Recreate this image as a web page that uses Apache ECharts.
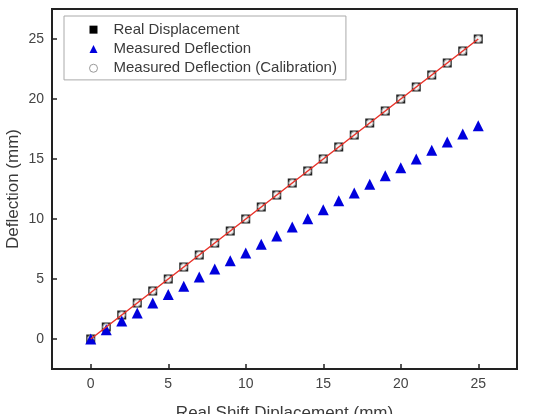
<!DOCTYPE html>
<html>
<head>
<meta charset="utf-8">
<script src="https://cdn.jsdelivr.net/npm/echarts@6/dist/echarts.min.js"></script>
<style>
  html, body { margin: 0; padding: 0; background: #fff; }
  #chart { width: 551px; height: 414px; }
</style>
</head>
<body>
<div id="chart"></div>
<script>
// shift displacement (mm)
var shift = [0, 1, 2, 3, 4, 5, 6, 7, 8, 9, 10, 11, 12, 13, 14, 15, 16, 17, 18, 19, 20, 21, 22, 23, 24, 25];
var realDisp = [0, 1, 2, 3, 4, 5, 6, 7, 8, 9, 10, 11, 12, 13, 14, 15, 16, 17, 18, 19, 20, 21, 22, 23, 24, 25];
var measured = [0, 0.78, 1.5, 2.17, 3.0, 3.7, 4.4, 5.17, 5.83, 6.53, 7.17, 7.9, 8.58, 9.33, 10.03,
                10.78, 11.53, 12.17, 12.89, 13.6, 14.28, 15.0, 15.72, 16.42, 17.08, 17.78];
var calibrated = [0, 1, 2, 3, 4, 5, 6, 7, 8, 9, 10, 11, 12, 13, 14, 15, 16, 17, 18, 19, 20, 21, 22, 23, 24, 25];
var xTicks = [0, 5, 10, 15, 20, 25];
var yTicks = [0, 5, 10, 15, 20, 25];

function pairs(ys) {
    return shift.map(function (x, i) { return [x, ys[i]]; });
}

var myChart = echarts.init(document.getElementById('chart'));
var font = 'Liberation Sans, Arial, sans-serif';

var option = {
    animation: false,
    backgroundColor: '#fff',
    textStyle: { fontFamily: font },
    grid: {
        left: 52, right: 34, top: 9, bottom: 45,
        outerBoundsMode: 'none',
        containLabel: false,
        show: true,
        borderColor: '#222',
        borderWidth: 2
    },
    legend: {
        orient: 'vertical',
        left: 64, top: 16,
        padding: [4, 9, 2, 25],
        itemGap: 0,
        itemWidth: 8, itemHeight: 8,
        backgroundColor: '#fff',
        borderColor: '#aaa',
        borderWidth: 1,
        textStyle: { fontSize: 15, color: '#3a3a3a', lineHeight: 19.3, padding: [0, 0, 0, 11], fontFamily: font },
        data: [
            { name: 'Real Displacement', icon: 'rect', itemStyle: { color: '#000' } },
            { name: 'Measured Deflection', icon: 'triangle', itemStyle: { color: '#0000dd' } },
            { name: 'Measured Deflection (Calibration)', icon: 'circle',
              itemStyle: { color: '#fff', borderColor: '#999', borderWidth: 1 } }
        ]
    },
    xAxis: {
        type: 'value',
        min: -2.5, max: 27.5,
        name: 'Real Shift Diplacement (mm)',
        nameLocation: 'middle',
        nameGap: 36,
        nameMoveOverlap: false,
        nameTextStyle: { fontSize: 17, color: '#3a3a3a', fontFamily: font },
        axisLine: { show: true, onZero: false, lineStyle: { color: '#222', width: 2 } },
        axisTick: { show: true, inside: true, length: 5, customValues: xTicks, lineStyle: { color: '#222', width: 1.5 } },
        axisLabel: { fontSize: 14, color: '#444', margin: 8, customValues: xTicks },
        splitLine: { show: false }
    },
    yAxis: {
        type: 'value',
        min: -2.5, max: 27.5,
        name: 'Deflection (mm)',
        nameLocation: 'middle',
        nameGap: 30,
        nameMoveOverlap: false,
        nameTextStyle: { fontSize: 17, color: '#3a3a3a', fontFamily: font },
        axisLine: { show: true, onZero: false, lineStyle: { color: '#222', width: 2 } },
        axisTick: { show: true, inside: true, length: 5, customValues: yTicks, lineStyle: { color: '#222', width: 1.5 } },
        axisLabel: { fontSize: 14, color: '#444', margin: 8, customValues: yTicks },
        splitLine: { show: false }
    },
    series: [
        {
            name: 'Real Displacement',
            type: 'scatter',
            data: pairs(realDisp),
            symbol: 'rect',
            symbolSize: 9,
            itemStyle: { color: '#222', opacity: 1 },
            z: 2
        },
        {
            name: 'Measured Deflection (Calibration)',
            type: 'scatter',
            data: pairs(calibrated),
            symbol: 'circle',
            symbolSize: 7,
            itemStyle: { color: '#f2f2f2', borderColor: '#888', borderWidth: 1, opacity: 1 },
            z: 3
        },
        {
            name: 'Measured Deflection',
            type: 'scatter',
            data: pairs(measured),
            symbol: 'triangle',
            symbolSize: 11,
            itemStyle: { color: '#0000dd', opacity: 1 },
            z: 3
        },
        {
            name: 'fit',
            type: 'line',
            data: pairs(realDisp),
            showSymbol: false,
            symbol: 'none',
            lineStyle: { color: '#e8332a', width: 1.5 },
            z: 4
        }
    ]
};

myChart.setOption(option);
</script>
</body>
</html>
